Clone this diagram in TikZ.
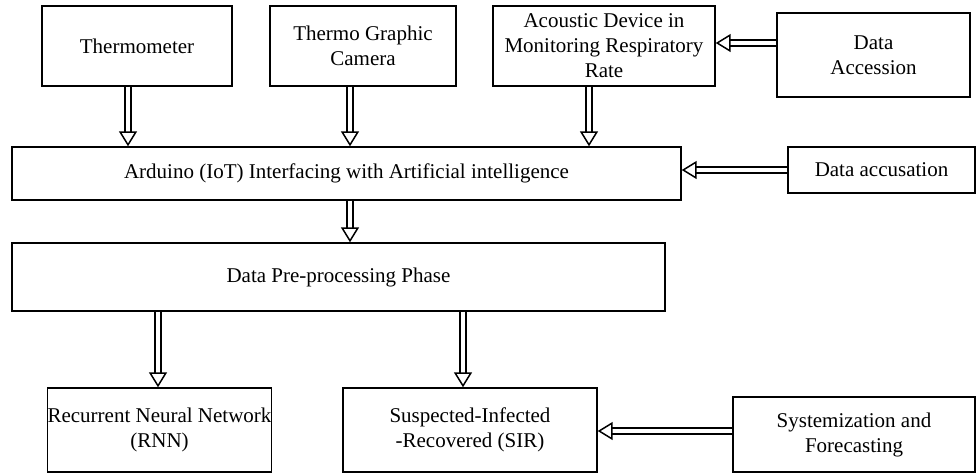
\documentclass[tikz,border=0pt]{standalone}
\usepackage{fontspec}
\setmainfont{Liberation Serif}
\usetikzlibrary{arrows.meta,calc,positioning}
\tikzset{
block/.style={draw, line width=1.4pt, align=center, inner sep=0pt,
  font=\fontsize{21}{25}\selectfont}, % plain boxes
hollow/.style={double, double distance=4.5pt, line width=1.5pt,
  -{Triangle[open, length=15pt, width=18pt, line width=1.5pt]}}, % outlined arrows
}

\begin{document}
\begin{tikzpicture}[x=1pt,y=-1pt]
\useasboundingbox (0,0) rectangle (976,474);
% top row
\node[block, minimum width=190pt, minimum height=80pt] (therm) at (137,46) {Thermometer};
\node[block, minimum width=186pt, minimum height=80pt] (cam) at (363,46) {Thermo Graphic\\Camera};
\node[block, minimum width=222pt, minimum height=80pt] (acou) at (604,46) {Acoustic Device in\\Monitoring Respiratory\\Rate};
\node[block, minimum width=193pt, minimum height=84pt] (access) at (873.5,55) {Data\\Accession};
% middle
\node[block, minimum width=669pt, minimum height=53pt] (arduino) at (346.5,173.5) {Arduino (IoT) Interfacing with Artificial intelligence};
\node[block, minimum width=187pt, minimum height=46pt] (accus) at (881.5,170) {Data accusation};
\node[block, minimum width=653pt, minimum height=68pt] (prep) at (338.5,277) {Data Pre-processing Phase};
% bottom row
\node[block, minimum width=223pt, minimum height=84pt] (rnn) at (159.5,430) {Recurrent Neural Network\\(RNN)};
\node[block, minimum width=254pt, minimum height=84pt] (sir) at (470,430) {Suspected-Infected\\-Recovered (SIR)};
\node[block, minimum width=242pt, minimum height=75pt] (syst) at (854,434.5) {Systemization and\\Forecasting};

\draw[hollow] ($(therm.south)+(-9,0)$) -- ($(therm.south |- arduino.north)+(-9,0)$);
\draw[hollow] ($(cam.south)+(-13,0)$) -- ($(cam.south |- arduino.north)+(-13,0)$);
\draw[hollow] ($(acou.south)+(-15,0)$) -- ($(acou.south |- arduino.north)+(-15,0)$);
\draw[hollow] ($(access.west)+(0,-12)$) -- ($(acou.east |- access.west)+(0,-12)$);
\draw[hollow] (accus.west) -- (accus.west -| arduino.east);
\draw[hollow] ($(arduino.south)+(3.5,0)$) -- ($(prep.north)+(11.5,0)$);
\draw[hollow] ($(rnn.north |- prep.south)+(-1.5,0)$) -- ($(rnn.north)+(-1.5,0)$);
\draw[hollow] ($(sir.north |- prep.south)+(-7,0)$) -- ($(sir.north)+(-7,0)$);
\draw[hollow] ($(syst.west)+(0,-3.5)$) -- ($(sir.east |- syst.west)+(0,-3.5)$);
\end{tikzpicture}
\end{document}
